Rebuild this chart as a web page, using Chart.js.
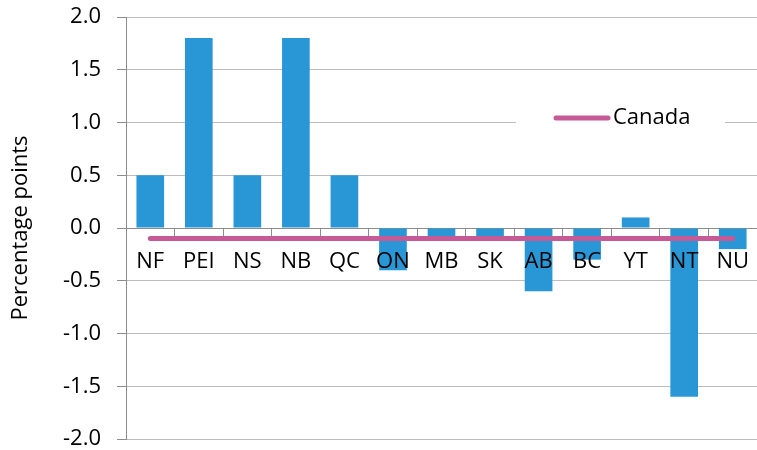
<!DOCTYPE html>
<html>
<head>
<meta charset="utf-8">
<script src="https://cdn.jsdelivr.net/npm/chart.js@4"></script>
<style>
  html, body { margin: 0; padding: 0; background: #fff; }
  #wrap { width: 757px; height: 450px; }
</style>
</head>
<body>
<div id="wrap"><canvas id="chart" width="757" height="450"></canvas></div>
<script>
// data
const provinces = ['NF', 'PEI', 'NS', 'NB', 'QC', 'ON', 'MB', 'SK', 'AB', 'BC', 'YT', 'NT', 'NU'];
const provinceChange = [0.5, 1.8, 0.5, 1.8, 0.5, -0.4, -0.1, -0.1, -0.6, -0.3, 0.1, -1.6, -0.2];
const canadaChange = [-0.1, -0.1, -0.1, -0.1, -0.1, -0.1, -0.1, -0.1, -0.1, -0.1, -0.1, -0.1, -0.1];
const yTicks = [-2.0, -1.5, -1.0, -0.5, 0.0, 0.5, 1.0, 1.5, 2.0];

const FONT = '"Open Sans", sans-serif';
const BLUE = '#2997d6';
const PINK = '#c55a97';

// legend box sitting inside the plot, like the original
const insideLegend = {
  id: 'insideLegend',
  afterDraw(chart) {
    const ctx = chart.ctx;
    const ds = chart.data.datasets[0];
    ctx.save();
    ctx.fillStyle = '#fff';
    ctx.fillRect(516, 104, 209, 30);
    ctx.strokeStyle = ds.borderColor;
    ctx.lineWidth = 5;
    ctx.lineCap = 'round';
    ctx.beginPath();
    ctx.moveTo(556, 118);
    ctx.lineTo(608, 118);
    ctx.stroke();
    ctx.fillStyle = '#000';
    ctx.font = '22px ' + FONT;
    ctx.textBaseline = 'middle';
    ctx.fillText(ds.label, 613, 118);
    ctx.restore();
  }
};

new Chart(document.getElementById('chart'), {
  data: {
    labels: provinces,
    datasets: [
      {
        type: 'line',
        label: 'Canada',
        data: canadaChange,
        borderColor: PINK,
        borderWidth: 5,
        borderCapStyle: 'round',
        pointRadius: 0,
        order: 0
      },
      {
        type: 'bar',
        label: 'Province',
        data: provinceChange,
        backgroundColor: BLUE,
        barPercentage: 0.57,
        categoryPercentage: 1,
        order: 1
      }
    ]
  },
  options: {
    responsive: false,
    animation: false,
    layout: { padding: { top: 17, bottom: 11, left: 0, right: 0 } },
    plugins: {
      legend: { display: false },
      tooltip: { enabled: false }
    },
    scales: {
      x: {
        position: { y: 0 },
        offset: true,
        afterFit(scale) {
          scale.paddingLeft = 0;
          scale.paddingRight = 0;
        },
        grid: {
          offset: true,
          drawOnChartArea: false,
          color: '#8c8c8c',
          tickLength: 7
        },
        border: { color: '#8c8c8c', width: 1 },
        ticks: {
          z: 1,
          color: '#000',
          font: { family: FONT, size: 22 },
          padding: 14,
          maxRotation: 0,
          autoSkip: false
        }
      },
      y: {
        min: -2,
        max: 2,
        afterBuildTicks(scale) {
          scale.ticks = yTicks.map(v => ({ value: v }));
        },
        afterFit(scale) {
          scale.width = 126;
          scale.paddingTop = 0;
          scale.paddingBottom = 0;
        },
        grid: {
          color: '#bdbdbd',
          tickLength: 9,
          tickColor: '#8c8c8c'
        },
        border: { color: '#8c8c8c', width: 1 },
        ticks: {
          color: '#000',
          font: { family: FONT, size: 22 },
          padding: 16,
          callback: v => v.toFixed(1)
        },
        title: {
          display: true,
          text: 'Percentage points',
          color: '#000',
          font: { family: FONT, size: 22 },
          padding: { top: 8, bottom: 0 }
        }
      }
    }
  },
  plugins: [insideLegend]
});
</script>
</body>
</html>
